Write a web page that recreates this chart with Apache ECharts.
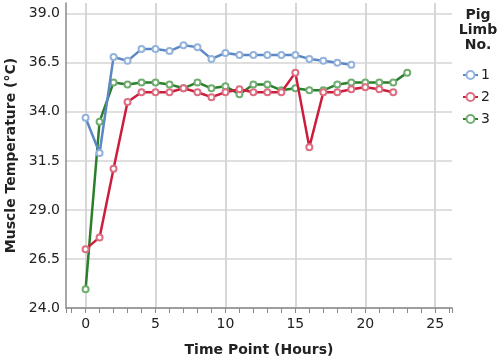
<!DOCTYPE html>
<html><head><meta charset="utf-8">
<script src="https://cdn.jsdelivr.net/npm/echarts@6/dist/echarts.min.js"></script>
<style>html,body{margin:0;padding:0;background:#fff}#c{width:500px;height:362px}</style>
</head><body><div id="c"></div>
<script>
const yTicks = ['24.0','26.5','29.0','31.5','34.0','36.5','39.0'];
const xTicks = [0,5,10,15,20,25];
const seriesNames = ['1','2','3'];
const time1 = [0,1,2,3,4,5,6,7,8,9,10,11,12,13,14,15,16,17,18,19];
const temp1 = [33.7,31.9,36.8,36.6,37.2,37.2,37.1,37.4,37.3,36.7,37.0,36.9,36.9,36.9,36.9,36.9,36.7,36.6,36.5,36.4];
const time2 = [0,1,2,3,4,5,6,7,8,9,10,11,12,13,14,15,16,17,18,19,20,21,22];
const temp2 = [27.0,27.6,31.1,34.5,35.0,35.0,35.0,35.2,35.0,34.75,35.0,35.15,35.0,35.0,35.0,36.0,32.2,35.0,35.0,35.15,35.25,35.15,35.0];
const time3 = [0,1,2,3,4,5,6,7,8,9,10,11,12,13,14,15,16,17,18,19,20,21,22,23];
const temp3 = [24.95,33.5,35.5,35.4,35.5,35.5,35.4,35.2,35.5,35.2,35.3,34.9,35.4,35.4,35.1,35.2,35.1,35.1,35.4,35.5,35.5,35.5,35.5,36.0];

const lineColors = ['#5b87c4','#cc1e3c','#2b7e2b'];
const markColors = ['#93b3dd','#dd6d80','#6fae6f'];
const GRID = '#d4d4d4';
const FONT = 'DejaVu Sans';

function pairs(t, v){ return t.map((x,i)=>[x,v[i]]); }
const allData = [pairs(time1,temp1), pairs(time2,temp2), pairs(time3,temp3)];

const series = seriesNames.map((n,i)=>({
  name:n, type:'line', data:allData[i],
  symbol:'emptyCircle', symbolSize:6,
  lineStyle:{color:lineColors[i], width:2.5},
  itemStyle:{color:markColors[i], borderColor:markColors[i], borderWidth:1.2},
  z: 5 - i
}));
series.unshift({
  name:'_vgrid', type:'line', data:[], silent:true, z:0,
  markLine:{silent:true, z:0, symbol:['none','none'], label:{show:false},
    lineStyle:{color:GRID, width:1.5, type:'solid'},
    emphasis:{disabled:true},
    data: xTicks.map(v=>({xAxis:v}))}
});

const chart = echarts.init(document.getElementById('c'), null, {renderer:'canvas'});
chart.setOption({
  animation:false,
  textStyle:{fontFamily:FONT},
  grid:{left:66, right:48, top:3, bottom:54, containLabel:false, outerBoundsMode:'none'},
  xAxis:{
    type:'value', min:-1.4, max:26.2,
    splitNumber:5,
    name:'Time Point (Hours)', nameLocation:'middle', nameGap:35,
    nameTextStyle:{fontFamily:FONT, fontWeight:'bold', fontSize:14, color:'#222'},
    axisLine:{show:true, onZero:false, lineStyle:{color:'#8a8a8a', width:1.5}},
    axisTick:{show:true, length:5, inside:false, lineStyle:{color:'#8a8a8a', width:1}},
    minorTick:{show:true, splitNumber:5, length:5, lineStyle:{color:'#8a8a8a', width:1}},
    axisLabel:{showMinLabel:false, showMaxLabel:false, margin:9, fontSize:14, color:'#222', fontFamily:FONT,
      formatter:function(v){ return xTicks.indexOf(v)>=0 ? String(v) : ''; }},
    splitLine:{show:true, showMinLine:false, showMaxLine:false, lineStyle:{color:GRID, width:1.5}}
  },
  yAxis:{
    type:'value', min:24, max:39.55, interval:2.5,
    name:'Muscle Temperature (°C)', nameLocation:'middle', nameGap:47,
    nameTextStyle:{fontFamily:FONT, fontWeight:'bold', fontSize:14, color:'#222'},
    axisLine:{show:true, onZero:false, lineStyle:{color:'#8a8a8a', width:1.5}},
    axisTick:{show:false},
    axisLabel:{showMaxLabel:false, margin:6, fontSize:14, color:'#222', fontFamily:FONT,
      formatter:function(v){ const s=v.toFixed(1); return yTicks.indexOf(s)>=0 ? s : ''; }},
    splitLine:{show:true, showMaxLine:false, lineStyle:{color:GRID, width:1.5}}
  },
  legend:{
    orient:'vertical', left:457, top:63, itemWidth:15, itemHeight:10, itemGap:8,
    textStyle:{fontSize:14, color:'#222', fontFamily:FONT, padding:[0,0,0,-2]},
    data:seriesNames
  },
  graphic:[{
    type:'text', x:478, y:8,
    style:{text:'Pig\nLimb\nNo.', font:'bold 14px "DejaVu Sans"', fill:'#222', align:'center', verticalAlign:'top', lineHeight:15}
  }],
  series: series
});
</script></body></html>
